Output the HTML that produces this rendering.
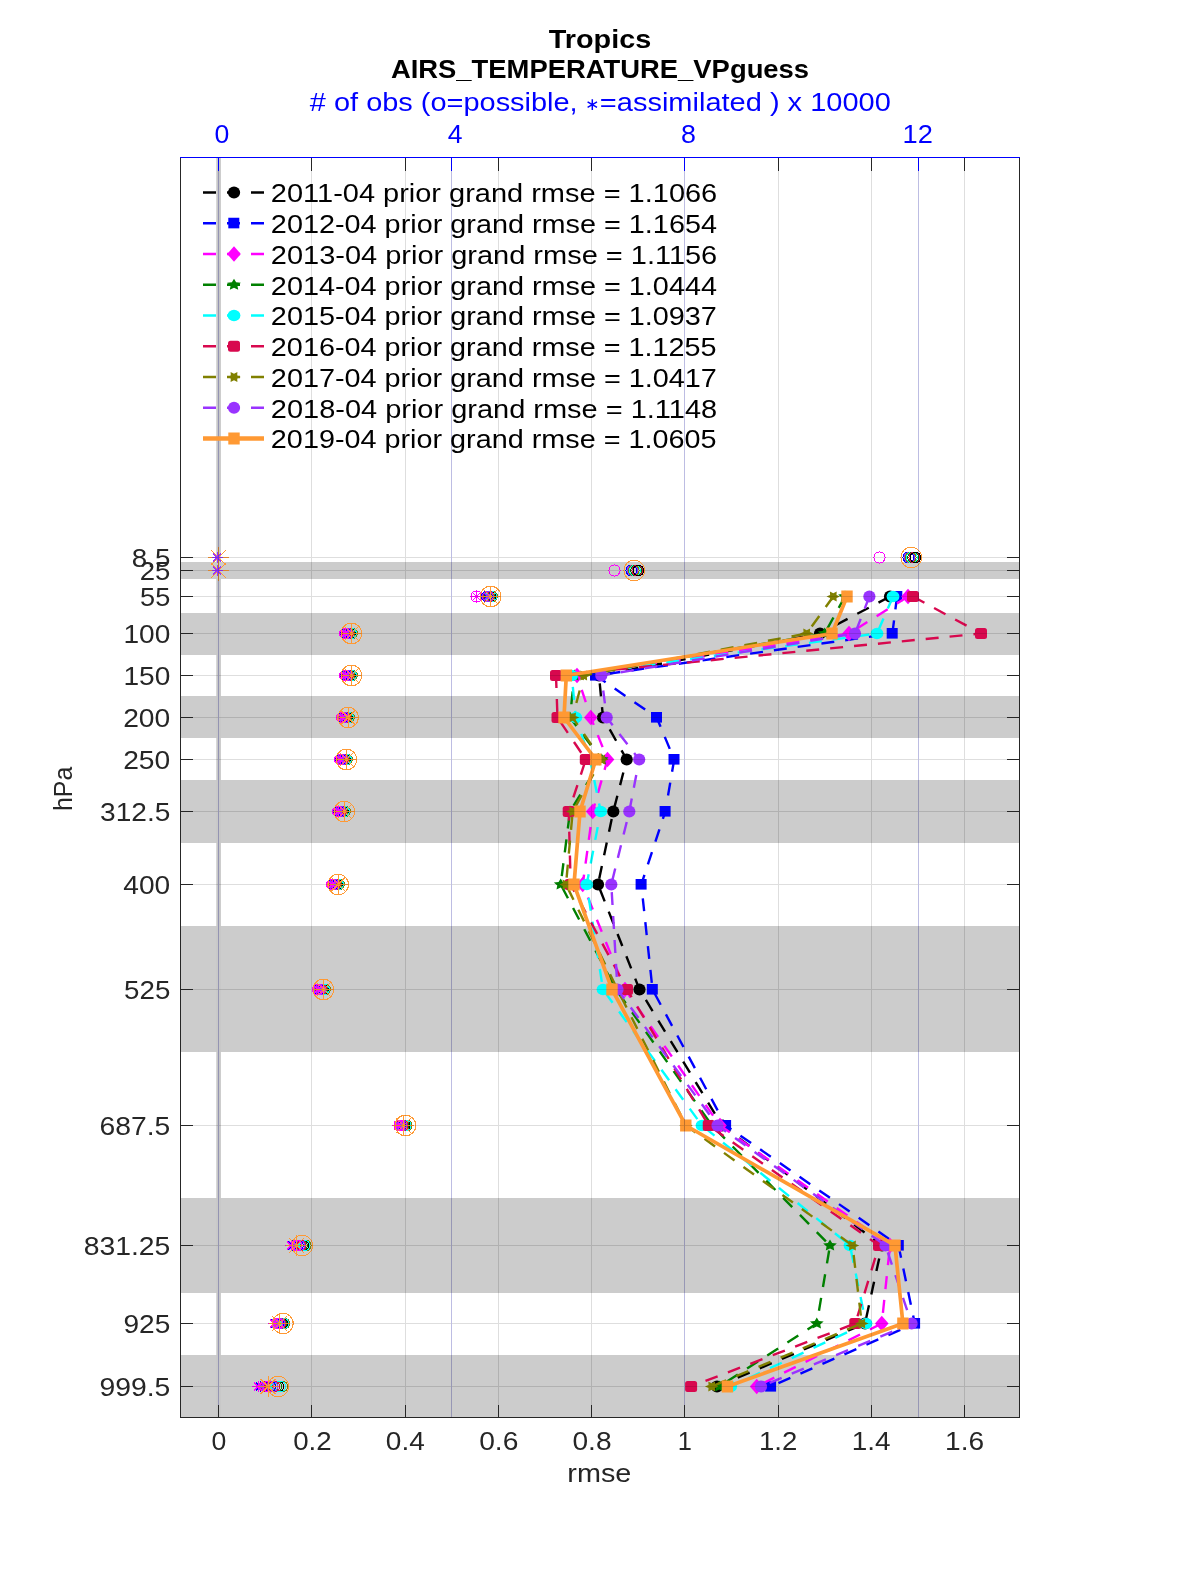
<!DOCTYPE html><html><head><meta charset="utf-8"><style>html,body{margin:0;padding:0;background:#fff;width:1200px;height:1575px;overflow:hidden}</style></head><body><svg width="1200" height="1575" viewBox="0 0 1200 1575" style="display:block">
<rect x="0" y="0" width="1200" height="1575" fill="#fff"/>
<clipPath id="cp"><rect x="180.5" y="157.5" width="839.0" height="1260.0"/></clipPath>
<g clip-path="url(#cp)">
<rect x="180.5" y="562" width="839.0" height="17" fill="#cccccc"/>
<rect x="180.5" y="613" width="839.0" height="42" fill="#cccccc"/>
<rect x="180.5" y="696" width="839.0" height="42" fill="#cccccc"/>
<rect x="180.5" y="780" width="839.0" height="63" fill="#cccccc"/>
<rect x="180.5" y="926" width="839.0" height="126" fill="#cccccc"/>
<rect x="180.5" y="1198" width="839.0" height="95" fill="#cccccc"/>
<rect x="180.5" y="1355" width="839.0" height="62.5" fill="#cccccc"/>
<line x1="218.6" y1="157.5" x2="218.6" y2="1417.5" stroke="#c8c8c8" stroke-width="4.6"/>
</g>
<g clip-path="url(#cp)">
<polyline points="890.00,596.50 820.00,633.50 599.00,675.50 603.00,717.50 626.70,759.50 613.30,811.50 598.00,884.50 639.50,989.50 722.00,1125.50 882.00,1245.50 865.00,1323.50 717.00,1386.50" fill="none" stroke="#000000" stroke-width="2.4" stroke-dasharray="13 11"/>
<circle cx="890.00" cy="596.50" r="6.1" fill="#000000"/>
<circle cx="820.00" cy="633.50" r="6.1" fill="#000000"/>
<circle cx="599.00" cy="675.50" r="6.1" fill="#000000"/>
<circle cx="603.00" cy="717.50" r="6.1" fill="#000000"/>
<circle cx="626.70" cy="759.50" r="6.1" fill="#000000"/>
<circle cx="613.30" cy="811.50" r="6.1" fill="#000000"/>
<circle cx="598.00" cy="884.50" r="6.1" fill="#000000"/>
<circle cx="639.50" cy="989.50" r="6.1" fill="#000000"/>
<circle cx="722.00" cy="1125.50" r="6.1" fill="#000000"/>
<circle cx="882.00" cy="1245.50" r="6.1" fill="#000000"/>
<circle cx="865.00" cy="1323.50" r="6.1" fill="#000000"/>
<circle cx="717.00" cy="1386.50" r="6.1" fill="#000000"/>
<polyline points="897.00,596.50 892.40,633.50 595.70,675.50 656.70,717.50 674.20,759.50 665.30,811.50 641.30,884.50 652.50,989.50 725.80,1125.50 898.50,1245.50 914.80,1323.50 770.80,1386.50" fill="none" stroke="#0000ff" stroke-width="2.4" stroke-dasharray="13 11"/>
<rect x="891.30" y="591.00" width="11" height="10.6" fill="#0000ff"/>
<rect x="886.70" y="628.00" width="11" height="10.6" fill="#0000ff"/>
<rect x="590.00" y="670.00" width="11" height="10.6" fill="#0000ff"/>
<rect x="651.00" y="712.00" width="11" height="10.6" fill="#0000ff"/>
<rect x="668.50" y="754.00" width="11" height="10.6" fill="#0000ff"/>
<rect x="659.60" y="806.00" width="11" height="10.6" fill="#0000ff"/>
<rect x="635.60" y="879.00" width="11" height="10.6" fill="#0000ff"/>
<rect x="646.80" y="984.00" width="11" height="10.6" fill="#0000ff"/>
<rect x="720.10" y="1120.00" width="11" height="10.6" fill="#0000ff"/>
<rect x="892.80" y="1240.00" width="11" height="10.6" fill="#0000ff"/>
<rect x="909.10" y="1318.00" width="11" height="10.6" fill="#0000ff"/>
<rect x="765.10" y="1381.00" width="11" height="10.6" fill="#0000ff"/>
<polyline points="908.00,596.50 849.00,633.50 577.00,675.50 590.80,717.50 607.50,759.50 592.70,811.50 582.70,884.50 625.00,989.50 720.00,1125.50 890.00,1245.50 881.80,1323.50 756.70,1386.50" fill="none" stroke="#ff00ff" stroke-width="2.4" stroke-dasharray="13 11"/>
<path d="M908.00 588.70L914.80 596.50L908.00 604.30L901.20 596.50Z" fill="#ff00ff"/>
<path d="M849.00 625.70L855.80 633.50L849.00 641.30L842.20 633.50Z" fill="#ff00ff"/>
<path d="M577.00 667.70L583.80 675.50L577.00 683.30L570.20 675.50Z" fill="#ff00ff"/>
<path d="M590.80 709.70L597.60 717.50L590.80 725.30L584.00 717.50Z" fill="#ff00ff"/>
<path d="M607.50 751.70L614.30 759.50L607.50 767.30L600.70 759.50Z" fill="#ff00ff"/>
<path d="M592.70 803.70L599.50 811.50L592.70 819.30L585.90 811.50Z" fill="#ff00ff"/>
<path d="M582.70 876.70L589.50 884.50L582.70 892.30L575.90 884.50Z" fill="#ff00ff"/>
<path d="M625.00 981.70L631.80 989.50L625.00 997.30L618.20 989.50Z" fill="#ff00ff"/>
<path d="M720.00 1117.70L726.80 1125.50L720.00 1133.30L713.20 1125.50Z" fill="#ff00ff"/>
<path d="M890.00 1237.70L896.80 1245.50L890.00 1253.30L883.20 1245.50Z" fill="#ff00ff"/>
<path d="M881.80 1315.70L888.60 1323.50L881.80 1331.30L875.00 1323.50Z" fill="#ff00ff"/>
<path d="M756.70 1378.70L763.50 1386.50L756.70 1394.30L749.90 1386.50Z" fill="#ff00ff"/>
<polyline points="845.00,596.50 824.70,633.50 574.30,675.50 570.00,717.50 601.70,759.50 570.00,811.50 560.70,884.50 616.00,989.50 712.00,1125.50 830.00,1245.50 816.80,1323.50 719.30,1386.50" fill="none" stroke="#008000" stroke-width="2.4" stroke-dasharray="13 11"/>
<polygon points="845.00,590.38 842.88,594.02 838.15,594.61 841.58,597.45 840.77,601.45 845.00,599.56 849.23,601.45 848.42,597.45 851.85,594.61 847.12,594.02" fill="#008000"/>
<polygon points="824.70,627.38 822.58,631.02 817.85,631.61 821.28,634.45 820.47,638.45 824.70,636.56 828.93,638.45 828.12,634.45 831.55,631.61 826.82,631.02" fill="#008000"/>
<polygon points="574.30,669.38 572.18,673.02 567.45,673.61 570.88,676.45 570.07,680.45 574.30,678.56 578.53,680.45 577.72,676.45 581.15,673.61 576.42,673.02" fill="#008000"/>
<polygon points="570.00,711.38 567.88,715.02 563.15,715.61 566.58,718.45 565.77,722.45 570.00,720.56 574.23,722.45 573.42,718.45 576.85,715.61 572.12,715.02" fill="#008000"/>
<polygon points="601.70,753.38 599.58,757.02 594.85,757.61 598.28,760.45 597.47,764.45 601.70,762.56 605.93,764.45 605.12,760.45 608.55,757.61 603.82,757.02" fill="#008000"/>
<polygon points="570.00,805.38 567.88,809.02 563.15,809.61 566.58,812.45 565.77,816.45 570.00,814.56 574.23,816.45 573.42,812.45 576.85,809.61 572.12,809.02" fill="#008000"/>
<polygon points="560.70,878.38 558.58,882.02 553.85,882.61 557.28,885.45 556.47,889.45 560.70,887.56 564.93,889.45 564.12,885.45 567.55,882.61 562.82,882.02" fill="#008000"/>
<polygon points="616.00,983.38 613.88,987.02 609.15,987.61 612.58,990.45 611.77,994.45 616.00,992.56 620.23,994.45 619.42,990.45 622.85,987.61 618.12,987.02" fill="#008000"/>
<polygon points="712.00,1119.38 709.88,1123.02 705.15,1123.61 708.58,1126.45 707.77,1130.45 712.00,1128.56 716.23,1130.45 715.42,1126.45 718.85,1123.61 714.12,1123.02" fill="#008000"/>
<polygon points="830.00,1239.38 827.88,1243.02 823.15,1243.61 826.58,1246.45 825.77,1250.45 830.00,1248.56 834.23,1250.45 833.42,1246.45 836.85,1243.61 832.12,1243.02" fill="#008000"/>
<polygon points="816.80,1317.38 814.68,1321.02 809.95,1321.61 813.38,1324.45 812.57,1328.45 816.80,1326.56 821.03,1328.45 820.22,1324.45 823.65,1321.61 818.92,1321.02" fill="#008000"/>
<polygon points="719.30,1380.38 717.18,1384.02 712.45,1384.61 715.88,1387.45 715.07,1391.45 719.30,1389.56 723.53,1391.45 722.72,1387.45 726.15,1384.61 721.42,1384.02" fill="#008000"/>
<polyline points="893.00,596.50 877.00,633.50 571.70,675.50 575.80,717.50 590.00,759.50 600.70,811.50 586.70,884.50 603.00,989.50 702.00,1125.50 850.00,1245.50 866.00,1323.50 730.70,1386.50" fill="none" stroke="#00ffff" stroke-width="2.4" stroke-dasharray="13 11"/>
<ellipse cx="893.00" cy="596.50" rx="6.4" ry="5.8" fill="#00ffff"/>
<ellipse cx="877.00" cy="633.50" rx="6.4" ry="5.8" fill="#00ffff"/>
<ellipse cx="571.70" cy="675.50" rx="6.4" ry="5.8" fill="#00ffff"/>
<ellipse cx="575.80" cy="717.50" rx="6.4" ry="5.8" fill="#00ffff"/>
<ellipse cx="590.00" cy="759.50" rx="6.4" ry="5.8" fill="#00ffff"/>
<ellipse cx="600.70" cy="811.50" rx="6.4" ry="5.8" fill="#00ffff"/>
<ellipse cx="586.70" cy="884.50" rx="6.4" ry="5.8" fill="#00ffff"/>
<ellipse cx="603.00" cy="989.50" rx="6.4" ry="5.8" fill="#00ffff"/>
<ellipse cx="702.00" cy="1125.50" rx="6.4" ry="5.8" fill="#00ffff"/>
<ellipse cx="850.00" cy="1245.50" rx="6.4" ry="5.8" fill="#00ffff"/>
<ellipse cx="866.00" cy="1323.50" rx="6.4" ry="5.8" fill="#00ffff"/>
<ellipse cx="730.70" cy="1386.50" rx="6.4" ry="5.8" fill="#00ffff"/>
<polyline points="913.00,596.50 981.00,633.50 556.00,675.50 557.50,717.50 585.80,759.50 568.70,811.50 570.70,884.50 627.00,989.50 708.75,1125.50 879.00,1245.50 855.30,1323.50 691.10,1386.50" fill="none" stroke="#d8084e" stroke-width="2.4" stroke-dasharray="13 11"/>
<rect x="907.00" y="590.90" width="12" height="11.2" rx="2.5" fill="#d8084e"/>
<rect x="975.00" y="627.90" width="12" height="11.2" rx="2.5" fill="#d8084e"/>
<rect x="550.00" y="669.90" width="12" height="11.2" rx="2.5" fill="#d8084e"/>
<rect x="551.50" y="711.90" width="12" height="11.2" rx="2.5" fill="#d8084e"/>
<rect x="579.80" y="753.90" width="12" height="11.2" rx="2.5" fill="#d8084e"/>
<rect x="562.70" y="805.90" width="12" height="11.2" rx="2.5" fill="#d8084e"/>
<rect x="564.70" y="878.90" width="12" height="11.2" rx="2.5" fill="#d8084e"/>
<rect x="621.00" y="983.90" width="12" height="11.2" rx="2.5" fill="#d8084e"/>
<rect x="702.75" y="1119.90" width="12" height="11.2" rx="2.5" fill="#d8084e"/>
<rect x="873.00" y="1239.90" width="12" height="11.2" rx="2.5" fill="#d8084e"/>
<rect x="849.30" y="1317.90" width="12" height="11.2" rx="2.5" fill="#d8084e"/>
<rect x="685.10" y="1380.90" width="12" height="11.2" rx="2.5" fill="#d8084e"/>
<polyline points="833.30,596.50 806.70,633.50 583.70,675.50 572.50,717.50 601.70,759.50 572.70,811.50 566.00,884.50 617.50,989.50 686.00,1125.50 852.50,1245.50 861.80,1323.50 711.70,1386.50" fill="none" stroke="#808000" stroke-width="2.4" stroke-dasharray="13 11"/>
<polygon points="840.10,596.50 836.50,594.93 836.70,591.49 833.30,593.36 829.90,591.49 830.10,594.93 826.50,596.50 830.10,598.07 829.90,601.51 833.30,599.64 836.70,601.51 836.50,598.07" fill="#808000"/>
<polygon points="813.50,633.50 809.90,631.93 810.10,628.49 806.70,630.36 803.30,628.49 803.50,631.93 799.90,633.50 803.50,635.07 803.30,638.51 806.70,636.64 810.10,638.51 809.90,635.07" fill="#808000"/>
<polygon points="590.50,675.50 586.90,673.93 587.10,670.49 583.70,672.36 580.30,670.49 580.50,673.93 576.90,675.50 580.50,677.07 580.30,680.51 583.70,678.64 587.10,680.51 586.90,677.07" fill="#808000"/>
<polygon points="579.30,717.50 575.70,715.93 575.90,712.49 572.50,714.36 569.10,712.49 569.30,715.93 565.70,717.50 569.30,719.07 569.10,722.51 572.50,720.64 575.90,722.51 575.70,719.07" fill="#808000"/>
<polygon points="608.50,759.50 604.90,757.93 605.10,754.49 601.70,756.36 598.30,754.49 598.50,757.93 594.90,759.50 598.50,761.07 598.30,764.51 601.70,762.64 605.10,764.51 604.90,761.07" fill="#808000"/>
<polygon points="579.50,811.50 575.90,809.93 576.10,806.49 572.70,808.36 569.30,806.49 569.50,809.93 565.90,811.50 569.50,813.07 569.30,816.51 572.70,814.64 576.10,816.51 575.90,813.07" fill="#808000"/>
<polygon points="572.80,884.50 569.20,882.93 569.40,879.49 566.00,881.36 562.60,879.49 562.80,882.93 559.20,884.50 562.80,886.07 562.60,889.51 566.00,887.64 569.40,889.51 569.20,886.07" fill="#808000"/>
<polygon points="624.30,989.50 620.70,987.93 620.90,984.49 617.50,986.36 614.10,984.49 614.30,987.93 610.70,989.50 614.30,991.07 614.10,994.51 617.50,992.64 620.90,994.51 620.70,991.07" fill="#808000"/>
<polygon points="692.80,1125.50 689.20,1123.93 689.40,1120.49 686.00,1122.36 682.60,1120.49 682.80,1123.93 679.20,1125.50 682.80,1127.07 682.60,1130.51 686.00,1128.64 689.40,1130.51 689.20,1127.07" fill="#808000"/>
<polygon points="859.30,1245.50 855.70,1243.93 855.90,1240.49 852.50,1242.36 849.10,1240.49 849.30,1243.93 845.70,1245.50 849.30,1247.07 849.10,1250.51 852.50,1248.64 855.90,1250.51 855.70,1247.07" fill="#808000"/>
<polygon points="868.60,1323.50 865.00,1321.93 865.20,1318.49 861.80,1320.36 858.40,1318.49 858.60,1321.93 855.00,1323.50 858.60,1325.07 858.40,1328.51 861.80,1326.64 865.20,1328.51 865.00,1325.07" fill="#808000"/>
<polygon points="718.50,1386.50 714.90,1384.93 715.10,1381.49 711.70,1383.36 708.30,1381.49 708.50,1384.93 704.90,1386.50 708.50,1388.07 708.30,1391.51 711.70,1389.64 715.10,1391.51 714.90,1388.07" fill="#808000"/>
<polyline points="869.40,596.50 855.00,633.50 601.30,675.50 606.70,717.50 639.20,759.50 629.30,811.50 611.30,884.50 617.50,989.50 717.50,1125.50 885.50,1245.50 911.60,1323.50 761.00,1386.50" fill="none" stroke="#9933ff" stroke-width="2.4" stroke-dasharray="13 11"/>
<circle cx="869.40" cy="596.50" r="6.1" fill="#9933ff"/>
<circle cx="855.00" cy="633.50" r="6.1" fill="#9933ff"/>
<circle cx="601.30" cy="675.50" r="6.1" fill="#9933ff"/>
<circle cx="606.70" cy="717.50" r="6.1" fill="#9933ff"/>
<circle cx="639.20" cy="759.50" r="6.1" fill="#9933ff"/>
<circle cx="629.30" cy="811.50" r="6.1" fill="#9933ff"/>
<circle cx="611.30" cy="884.50" r="6.1" fill="#9933ff"/>
<circle cx="617.50" cy="989.50" r="6.1" fill="#9933ff"/>
<circle cx="717.50" cy="1125.50" r="6.1" fill="#9933ff"/>
<circle cx="885.50" cy="1245.50" r="6.1" fill="#9933ff"/>
<circle cx="911.60" cy="1323.50" r="6.1" fill="#9933ff"/>
<circle cx="761.00" cy="1386.50" r="6.1" fill="#9933ff"/>
<polyline points="847.00,596.50 832.00,633.50 566.30,675.50 564.00,717.50 595.80,759.50 580.00,811.50 574.00,884.50 612.00,989.50 685.80,1125.50 895.00,1245.50 902.90,1323.50 727.40,1386.50" fill="none" stroke="#ff9933" stroke-width="3.7" stroke-linejoin="miter"/>
<rect x="841.30" y="590.50" width="11.4" height="12" fill="#ff9933"/>
<rect x="826.30" y="627.50" width="11.4" height="12" fill="#ff9933"/>
<rect x="560.60" y="669.50" width="11.4" height="12" fill="#ff9933"/>
<rect x="558.30" y="711.50" width="11.4" height="12" fill="#ff9933"/>
<rect x="590.10" y="753.50" width="11.4" height="12" fill="#ff9933"/>
<rect x="574.30" y="805.50" width="11.4" height="12" fill="#ff9933"/>
<rect x="568.30" y="878.50" width="11.4" height="12" fill="#ff9933"/>
<rect x="606.30" y="983.50" width="11.4" height="12" fill="#ff9933"/>
<rect x="680.10" y="1119.50" width="11.4" height="12" fill="#ff9933"/>
<rect x="889.30" y="1239.50" width="11.4" height="12" fill="#ff9933"/>
<rect x="897.20" y="1317.50" width="11.4" height="12" fill="#ff9933"/>
<rect x="721.70" y="1380.50" width="11.4" height="12" fill="#ff9933"/>
<g shape-rendering="crispEdges">
<circle cx="879.5" cy="557.50" r="5.6" fill="none" stroke="#ff00ff" stroke-width="1.0"/>
<circle cx="908.30" cy="557.50" r="5.4" fill="none" stroke="#0000ff" stroke-width="1.0"/>
<circle cx="909.50" cy="557.50" r="5.4" fill="none" stroke="#9933ff" stroke-width="1.0"/>
<circle cx="910.70" cy="557.50" r="5.4" fill="none" stroke="#808000" stroke-width="1.0"/>
<circle cx="911.90" cy="557.50" r="5.4" fill="none" stroke="#00ffff" stroke-width="1.0"/>
<circle cx="913.10" cy="557.50" r="5.4" fill="none" stroke="#008000" stroke-width="1.0"/>
<circle cx="914.30" cy="557.50" r="5.4" fill="none" stroke="#d8084e" stroke-width="1.0"/>
<circle cx="915.50" cy="557.50" r="5.4" fill="none" stroke="#000000" stroke-width="1.0"/>
<circle cx="911.3" cy="557.50" r="10.3" fill="none" stroke="#ff9933" stroke-width="1.0"/>
<path d="M207.90 557.50H228.90M218.40 547.00V568.00M210.98 550.08L225.82 564.92M210.98 564.92L225.82 550.08" stroke="#ff9933" stroke-width="1.0" fill="none"/>
<path d="M211.60 557.50H222.60M217.10 552.00V563.00M213.21 553.61L220.99 561.39M213.21 561.39L220.99 553.61" stroke="#9933ff" stroke-width="1.0" fill="none"/>
<circle cx="614.5" cy="570.50" r="5.6" fill="none" stroke="#ff00ff" stroke-width="1.0"/>
<circle cx="631.30" cy="570.50" r="5.4" fill="none" stroke="#0000ff" stroke-width="1.0"/>
<circle cx="632.50" cy="570.50" r="5.4" fill="none" stroke="#9933ff" stroke-width="1.0"/>
<circle cx="633.70" cy="570.50" r="5.4" fill="none" stroke="#808000" stroke-width="1.0"/>
<circle cx="634.90" cy="570.50" r="5.4" fill="none" stroke="#00ffff" stroke-width="1.0"/>
<circle cx="636.10" cy="570.50" r="5.4" fill="none" stroke="#008000" stroke-width="1.0"/>
<circle cx="637.30" cy="570.50" r="5.4" fill="none" stroke="#d8084e" stroke-width="1.0"/>
<circle cx="638.50" cy="570.50" r="5.4" fill="none" stroke="#000000" stroke-width="1.0"/>
<circle cx="634.3" cy="570.50" r="10.3" fill="none" stroke="#ff9933" stroke-width="1.0"/>
<path d="M207.90 570.50H228.90M218.40 560.00V581.00M210.98 563.08L225.82 577.92M210.98 577.92L225.82 563.08" stroke="#ff9933" stroke-width="1.0" fill="none"/>
<path d="M211.60 570.50H222.60M217.10 565.00V576.00M213.21 566.61L220.99 574.39M213.21 574.39L220.99 566.61" stroke="#9933ff" stroke-width="1.0" fill="none"/>
<circle cx="476.5" cy="596.50" r="5.6" fill="none" stroke="#ff00ff" stroke-width="1.0"/>
<path d="M470.50 596.50H482.50M476.50 590.50V602.50M472.26 592.26L480.74 600.74M472.26 600.74L480.74 592.26" stroke="#ff00ff" stroke-width="1.0" fill="none"/>
<circle cx="489.50" cy="596.50" r="5.4" fill="none" stroke="#008000" stroke-width="1.0"/>
<path d="M483.70 596.50H495.30M489.50 590.70V602.30M485.40 592.40L493.60 600.60M485.40 600.60L493.60 592.40" stroke="#008000" stroke-width="1.0" fill="none"/>
<circle cx="490.33" cy="596.50" r="5.4" fill="none" stroke="#000000" stroke-width="1.0"/>
<path d="M484.53 596.50H496.13M490.33 590.70V602.30M486.23 592.40L494.43 600.60M486.23 600.60L494.43 592.40" stroke="#000000" stroke-width="1.0" fill="none"/>
<circle cx="492.00" cy="596.50" r="5.4" fill="none" stroke="#808000" stroke-width="1.0"/>
<path d="M486.20 596.50H497.80M492.00 590.70V602.30M487.90 592.40L496.10 600.60M487.90 600.60L496.10 592.40" stroke="#808000" stroke-width="1.0" fill="none"/>
<circle cx="491.17" cy="596.50" r="5.4" fill="none" stroke="#00ffff" stroke-width="1.0"/>
<path d="M485.37 596.50H496.97M491.17 590.70V602.30M487.07 592.40L495.27 600.60M487.07 600.60L495.27 592.40" stroke="#00ffff" stroke-width="1.0" fill="none"/>
<circle cx="487.00" cy="596.50" r="5.4" fill="none" stroke="#0000ff" stroke-width="1.0"/>
<path d="M481.20 596.50H492.80M487.00 590.70V602.30M482.90 592.40L491.10 600.60M482.90 600.60L491.10 592.40" stroke="#0000ff" stroke-width="1.0" fill="none"/>
<circle cx="488.67" cy="596.50" r="5.4" fill="none" stroke="#d8084e" stroke-width="1.0"/>
<path d="M482.87 596.50H494.47M488.67 590.70V602.30M484.57 592.40L492.77 600.60M484.57 600.60L492.77 592.40" stroke="#d8084e" stroke-width="1.0" fill="none"/>
<circle cx="487.83" cy="596.50" r="5.4" fill="none" stroke="#9933ff" stroke-width="1.0"/>
<path d="M482.03 596.50H493.63M487.83 590.70V602.30M483.73 592.40L491.93 600.60M483.73 600.60L491.93 592.40" stroke="#9933ff" stroke-width="1.0" fill="none"/>
<circle cx="490.6" cy="596.50" r="10.3" fill="none" stroke="#ff9933" stroke-width="1.0"/>
<path d="M480.10 596.50H501.10M490.60 586.00V607.00M483.18 589.08L498.02 603.92M483.18 603.92L498.02 589.08" stroke="#ff9933" stroke-width="1.0" fill="none"/>
<circle cx="349.00" cy="633.50" r="5.4" fill="none" stroke="#008000" stroke-width="1.0"/>
<path d="M343.20 633.50H354.80M349.00 627.70V639.30M344.90 629.40L353.10 637.60M344.90 637.60L353.10 629.40" stroke="#008000" stroke-width="1.0" fill="none"/>
<circle cx="350.00" cy="633.50" r="5.4" fill="none" stroke="#000000" stroke-width="1.0"/>
<path d="M344.20 633.50H355.80M350.00 627.70V639.30M345.90 629.40L354.10 637.60M345.90 637.60L354.10 629.40" stroke="#000000" stroke-width="1.0" fill="none"/>
<circle cx="352.00" cy="633.50" r="5.4" fill="none" stroke="#808000" stroke-width="1.0"/>
<path d="M346.20 633.50H357.80M352.00 627.70V639.30M347.90 629.40L356.10 637.60M347.90 637.60L356.10 629.40" stroke="#808000" stroke-width="1.0" fill="none"/>
<circle cx="351.00" cy="633.50" r="5.4" fill="none" stroke="#00ffff" stroke-width="1.0"/>
<path d="M345.20 633.50H356.80M351.00 627.70V639.30M346.90 629.40L355.10 637.60M346.90 637.60L355.10 629.40" stroke="#00ffff" stroke-width="1.0" fill="none"/>
<circle cx="346.00" cy="633.50" r="5.4" fill="none" stroke="#0000ff" stroke-width="1.0"/>
<path d="M340.20 633.50H351.80M346.00 627.70V639.30M341.90 629.40L350.10 637.60M341.90 637.60L350.10 629.40" stroke="#0000ff" stroke-width="1.0" fill="none"/>
<circle cx="348.00" cy="633.50" r="5.4" fill="none" stroke="#d8084e" stroke-width="1.0"/>
<path d="M342.20 633.50H353.80M348.00 627.70V639.30M343.90 629.40L352.10 637.60M343.90 637.60L352.10 629.40" stroke="#d8084e" stroke-width="1.0" fill="none"/>
<circle cx="347.00" cy="633.50" r="5.4" fill="none" stroke="#9933ff" stroke-width="1.0"/>
<path d="M341.20 633.50H352.80M347.00 627.70V639.30M342.90 629.40L351.10 637.60M342.90 637.60L351.10 629.40" stroke="#9933ff" stroke-width="1.0" fill="none"/>
<circle cx="345.00" cy="633.50" r="5.4" fill="none" stroke="#ff00ff" stroke-width="1.0"/>
<path d="M339.20 633.50H350.80M345.00 627.70V639.30M340.90 629.40L349.10 637.60M340.90 637.60L349.10 629.40" stroke="#ff00ff" stroke-width="1.0" fill="none"/>
<circle cx="351.4" cy="633.50" r="10.3" fill="none" stroke="#ff9933" stroke-width="1.0"/>
<path d="M340.90 633.50H361.90M351.40 623.00V644.00M343.98 626.08L358.82 640.92M343.98 640.92L358.82 626.08" stroke="#ff9933" stroke-width="1.0" fill="none"/>
<circle cx="349.00" cy="675.50" r="5.4" fill="none" stroke="#008000" stroke-width="1.0"/>
<path d="M343.20 675.50H354.80M349.00 669.70V681.30M344.90 671.40L353.10 679.60M344.90 679.60L353.10 671.40" stroke="#008000" stroke-width="1.0" fill="none"/>
<circle cx="350.00" cy="675.50" r="5.4" fill="none" stroke="#000000" stroke-width="1.0"/>
<path d="M344.20 675.50H355.80M350.00 669.70V681.30M345.90 671.40L354.10 679.60M345.90 679.60L354.10 671.40" stroke="#000000" stroke-width="1.0" fill="none"/>
<circle cx="352.00" cy="675.50" r="5.4" fill="none" stroke="#808000" stroke-width="1.0"/>
<path d="M346.20 675.50H357.80M352.00 669.70V681.30M347.90 671.40L356.10 679.60M347.90 679.60L356.10 671.40" stroke="#808000" stroke-width="1.0" fill="none"/>
<circle cx="351.00" cy="675.50" r="5.4" fill="none" stroke="#00ffff" stroke-width="1.0"/>
<path d="M345.20 675.50H356.80M351.00 669.70V681.30M346.90 671.40L355.10 679.60M346.90 679.60L355.10 671.40" stroke="#00ffff" stroke-width="1.0" fill="none"/>
<circle cx="346.00" cy="675.50" r="5.4" fill="none" stroke="#0000ff" stroke-width="1.0"/>
<path d="M340.20 675.50H351.80M346.00 669.70V681.30M341.90 671.40L350.10 679.60M341.90 679.60L350.10 671.40" stroke="#0000ff" stroke-width="1.0" fill="none"/>
<circle cx="348.00" cy="675.50" r="5.4" fill="none" stroke="#d8084e" stroke-width="1.0"/>
<path d="M342.20 675.50H353.80M348.00 669.70V681.30M343.90 671.40L352.10 679.60M343.90 679.60L352.10 671.40" stroke="#d8084e" stroke-width="1.0" fill="none"/>
<circle cx="347.00" cy="675.50" r="5.4" fill="none" stroke="#9933ff" stroke-width="1.0"/>
<path d="M341.20 675.50H352.80M347.00 669.70V681.30M342.90 671.40L351.10 679.60M342.90 679.60L351.10 671.40" stroke="#9933ff" stroke-width="1.0" fill="none"/>
<circle cx="345.00" cy="675.50" r="5.4" fill="none" stroke="#ff00ff" stroke-width="1.0"/>
<path d="M339.20 675.50H350.80M345.00 669.70V681.30M340.90 671.40L349.10 679.60M340.90 679.60L349.10 671.40" stroke="#ff00ff" stroke-width="1.0" fill="none"/>
<circle cx="351.4" cy="675.50" r="10.3" fill="none" stroke="#ff9933" stroke-width="1.0"/>
<path d="M340.90 675.50H361.90M351.40 665.00V686.00M343.98 668.08L358.82 682.92M343.98 682.92L358.82 668.08" stroke="#ff9933" stroke-width="1.0" fill="none"/>
<circle cx="346.00" cy="717.50" r="5.4" fill="none" stroke="#008000" stroke-width="1.0"/>
<path d="M340.20 717.50H351.80M346.00 711.70V723.30M341.90 713.40L350.10 721.60M341.90 721.60L350.10 713.40" stroke="#008000" stroke-width="1.0" fill="none"/>
<circle cx="347.00" cy="717.50" r="5.4" fill="none" stroke="#000000" stroke-width="1.0"/>
<path d="M341.20 717.50H352.80M347.00 711.70V723.30M342.90 713.40L351.10 721.60M342.90 721.60L351.10 713.40" stroke="#000000" stroke-width="1.0" fill="none"/>
<circle cx="349.00" cy="717.50" r="5.4" fill="none" stroke="#808000" stroke-width="1.0"/>
<path d="M343.20 717.50H354.80M349.00 711.70V723.30M344.90 713.40L353.10 721.60M344.90 721.60L353.10 713.40" stroke="#808000" stroke-width="1.0" fill="none"/>
<circle cx="348.00" cy="717.50" r="5.4" fill="none" stroke="#00ffff" stroke-width="1.0"/>
<path d="M342.20 717.50H353.80M348.00 711.70V723.30M343.90 713.40L352.10 721.60M343.90 721.60L352.10 713.40" stroke="#00ffff" stroke-width="1.0" fill="none"/>
<circle cx="343.00" cy="717.50" r="5.4" fill="none" stroke="#0000ff" stroke-width="1.0"/>
<path d="M337.20 717.50H348.80M343.00 711.70V723.30M338.90 713.40L347.10 721.60M338.90 721.60L347.10 713.40" stroke="#0000ff" stroke-width="1.0" fill="none"/>
<circle cx="345.00" cy="717.50" r="5.4" fill="none" stroke="#d8084e" stroke-width="1.0"/>
<path d="M339.20 717.50H350.80M345.00 711.70V723.30M340.90 713.40L349.10 721.60M340.90 721.60L349.10 713.40" stroke="#d8084e" stroke-width="1.0" fill="none"/>
<circle cx="344.00" cy="717.50" r="5.4" fill="none" stroke="#9933ff" stroke-width="1.0"/>
<path d="M338.20 717.50H349.80M344.00 711.70V723.30M339.90 713.40L348.10 721.60M339.90 721.60L348.10 713.40" stroke="#9933ff" stroke-width="1.0" fill="none"/>
<circle cx="342.00" cy="717.50" r="5.4" fill="none" stroke="#ff00ff" stroke-width="1.0"/>
<path d="M336.20 717.50H347.80M342.00 711.70V723.30M337.90 713.40L346.10 721.60M337.90 721.60L346.10 713.40" stroke="#ff00ff" stroke-width="1.0" fill="none"/>
<circle cx="348.1" cy="717.50" r="10.3" fill="none" stroke="#ff9933" stroke-width="1.0"/>
<path d="M337.60 717.50H358.60M348.10 707.00V728.00M340.68 710.08L355.52 724.92M340.68 724.92L355.52 710.08" stroke="#ff9933" stroke-width="1.0" fill="none"/>
<circle cx="344.00" cy="759.50" r="5.4" fill="none" stroke="#008000" stroke-width="1.0"/>
<path d="M338.20 759.50H349.80M344.00 753.70V765.30M339.90 755.40L348.10 763.60M339.90 763.60L348.10 755.40" stroke="#008000" stroke-width="1.0" fill="none"/>
<circle cx="345.00" cy="759.50" r="5.4" fill="none" stroke="#000000" stroke-width="1.0"/>
<path d="M339.20 759.50H350.80M345.00 753.70V765.30M340.90 755.40L349.10 763.60M340.90 763.60L349.10 755.40" stroke="#000000" stroke-width="1.0" fill="none"/>
<circle cx="347.00" cy="759.50" r="5.4" fill="none" stroke="#808000" stroke-width="1.0"/>
<path d="M341.20 759.50H352.80M347.00 753.70V765.30M342.90 755.40L351.10 763.60M342.90 763.60L351.10 755.40" stroke="#808000" stroke-width="1.0" fill="none"/>
<circle cx="346.00" cy="759.50" r="5.4" fill="none" stroke="#00ffff" stroke-width="1.0"/>
<path d="M340.20 759.50H351.80M346.00 753.70V765.30M341.90 755.40L350.10 763.60M341.90 763.60L350.10 755.40" stroke="#00ffff" stroke-width="1.0" fill="none"/>
<circle cx="341.00" cy="759.50" r="5.4" fill="none" stroke="#0000ff" stroke-width="1.0"/>
<path d="M335.20 759.50H346.80M341.00 753.70V765.30M336.90 755.40L345.10 763.60M336.90 763.60L345.10 755.40" stroke="#0000ff" stroke-width="1.0" fill="none"/>
<circle cx="343.00" cy="759.50" r="5.4" fill="none" stroke="#d8084e" stroke-width="1.0"/>
<path d="M337.20 759.50H348.80M343.00 753.70V765.30M338.90 755.40L347.10 763.60M338.90 763.60L347.10 755.40" stroke="#d8084e" stroke-width="1.0" fill="none"/>
<circle cx="342.00" cy="759.50" r="5.4" fill="none" stroke="#9933ff" stroke-width="1.0"/>
<path d="M336.20 759.50H347.80M342.00 753.70V765.30M337.90 755.40L346.10 763.60M337.90 763.60L346.10 755.40" stroke="#9933ff" stroke-width="1.0" fill="none"/>
<circle cx="340.00" cy="759.50" r="5.4" fill="none" stroke="#ff00ff" stroke-width="1.0"/>
<path d="M334.20 759.50H345.80M340.00 753.70V765.30M335.90 755.40L344.10 763.60M335.90 763.60L344.10 755.40" stroke="#ff00ff" stroke-width="1.0" fill="none"/>
<circle cx="346.4" cy="759.50" r="10.3" fill="none" stroke="#ff9933" stroke-width="1.0"/>
<path d="M335.90 759.50H356.90M346.40 749.00V770.00M338.98 752.08L353.82 766.92M338.98 766.92L353.82 752.08" stroke="#ff9933" stroke-width="1.0" fill="none"/>
<circle cx="342.00" cy="811.50" r="5.4" fill="none" stroke="#008000" stroke-width="1.0"/>
<path d="M336.20 811.50H347.80M342.00 805.70V817.30M337.90 807.40L346.10 815.60M337.90 815.60L346.10 807.40" stroke="#008000" stroke-width="1.0" fill="none"/>
<circle cx="343.00" cy="811.50" r="5.4" fill="none" stroke="#000000" stroke-width="1.0"/>
<path d="M337.20 811.50H348.80M343.00 805.70V817.30M338.90 807.40L347.10 815.60M338.90 815.60L347.10 807.40" stroke="#000000" stroke-width="1.0" fill="none"/>
<circle cx="345.00" cy="811.50" r="5.4" fill="none" stroke="#808000" stroke-width="1.0"/>
<path d="M339.20 811.50H350.80M345.00 805.70V817.30M340.90 807.40L349.10 815.60M340.90 815.60L349.10 807.40" stroke="#808000" stroke-width="1.0" fill="none"/>
<circle cx="344.00" cy="811.50" r="5.4" fill="none" stroke="#00ffff" stroke-width="1.0"/>
<path d="M338.20 811.50H349.80M344.00 805.70V817.30M339.90 807.40L348.10 815.60M339.90 815.60L348.10 807.40" stroke="#00ffff" stroke-width="1.0" fill="none"/>
<circle cx="339.00" cy="811.50" r="5.4" fill="none" stroke="#0000ff" stroke-width="1.0"/>
<path d="M333.20 811.50H344.80M339.00 805.70V817.30M334.90 807.40L343.10 815.60M334.90 815.60L343.10 807.40" stroke="#0000ff" stroke-width="1.0" fill="none"/>
<circle cx="341.00" cy="811.50" r="5.4" fill="none" stroke="#d8084e" stroke-width="1.0"/>
<path d="M335.20 811.50H346.80M341.00 805.70V817.30M336.90 807.40L345.10 815.60M336.90 815.60L345.10 807.40" stroke="#d8084e" stroke-width="1.0" fill="none"/>
<circle cx="340.00" cy="811.50" r="5.4" fill="none" stroke="#9933ff" stroke-width="1.0"/>
<path d="M334.20 811.50H345.80M340.00 805.70V817.30M335.90 807.40L344.10 815.60M335.90 815.60L344.10 807.40" stroke="#9933ff" stroke-width="1.0" fill="none"/>
<circle cx="338.00" cy="811.50" r="5.4" fill="none" stroke="#ff00ff" stroke-width="1.0"/>
<path d="M332.20 811.50H343.80M338.00 805.70V817.30M333.90 807.40L342.10 815.60M333.90 815.60L342.10 807.40" stroke="#ff00ff" stroke-width="1.0" fill="none"/>
<circle cx="344.3" cy="811.50" r="10.3" fill="none" stroke="#ff9933" stroke-width="1.0"/>
<path d="M333.80 811.50H354.80M344.30 801.00V822.00M336.88 804.08L351.72 818.92M336.88 818.92L351.72 804.08" stroke="#ff9933" stroke-width="1.0" fill="none"/>
<circle cx="336.00" cy="884.50" r="5.4" fill="none" stroke="#008000" stroke-width="1.0"/>
<path d="M330.20 884.50H341.80M336.00 878.70V890.30M331.90 880.40L340.10 888.60M331.90 888.60L340.10 880.40" stroke="#008000" stroke-width="1.0" fill="none"/>
<circle cx="337.00" cy="884.50" r="5.4" fill="none" stroke="#000000" stroke-width="1.0"/>
<path d="M331.20 884.50H342.80M337.00 878.70V890.30M332.90 880.40L341.10 888.60M332.90 888.60L341.10 880.40" stroke="#000000" stroke-width="1.0" fill="none"/>
<circle cx="339.00" cy="884.50" r="5.4" fill="none" stroke="#808000" stroke-width="1.0"/>
<path d="M333.20 884.50H344.80M339.00 878.70V890.30M334.90 880.40L343.10 888.60M334.90 888.60L343.10 880.40" stroke="#808000" stroke-width="1.0" fill="none"/>
<circle cx="338.00" cy="884.50" r="5.4" fill="none" stroke="#00ffff" stroke-width="1.0"/>
<path d="M332.20 884.50H343.80M338.00 878.70V890.30M333.90 880.40L342.10 888.60M333.90 888.60L342.10 880.40" stroke="#00ffff" stroke-width="1.0" fill="none"/>
<circle cx="333.00" cy="884.50" r="5.4" fill="none" stroke="#0000ff" stroke-width="1.0"/>
<path d="M327.20 884.50H338.80M333.00 878.70V890.30M328.90 880.40L337.10 888.60M328.90 888.60L337.10 880.40" stroke="#0000ff" stroke-width="1.0" fill="none"/>
<circle cx="335.00" cy="884.50" r="5.4" fill="none" stroke="#d8084e" stroke-width="1.0"/>
<path d="M329.20 884.50H340.80M335.00 878.70V890.30M330.90 880.40L339.10 888.60M330.90 888.60L339.10 880.40" stroke="#d8084e" stroke-width="1.0" fill="none"/>
<circle cx="334.00" cy="884.50" r="5.4" fill="none" stroke="#9933ff" stroke-width="1.0"/>
<path d="M328.20 884.50H339.80M334.00 878.70V890.30M329.90 880.40L338.10 888.60M329.90 888.60L338.10 880.40" stroke="#9933ff" stroke-width="1.0" fill="none"/>
<circle cx="332.00" cy="884.50" r="5.4" fill="none" stroke="#ff00ff" stroke-width="1.0"/>
<path d="M326.20 884.50H337.80M332.00 878.70V890.30M327.90 880.40L336.10 888.60M327.90 888.60L336.10 880.40" stroke="#ff00ff" stroke-width="1.0" fill="none"/>
<circle cx="338.2" cy="884.50" r="10.3" fill="none" stroke="#ff9933" stroke-width="1.0"/>
<path d="M327.70 884.50H348.70M338.20 874.00V895.00M330.78 877.08L345.62 891.92M330.78 891.92L345.62 877.08" stroke="#ff9933" stroke-width="1.0" fill="none"/>
<circle cx="322.00" cy="989.50" r="5.4" fill="none" stroke="#008000" stroke-width="1.0"/>
<path d="M316.20 989.50H327.80M322.00 983.70V995.30M317.90 985.40L326.10 993.60M317.90 993.60L326.10 985.40" stroke="#008000" stroke-width="1.0" fill="none"/>
<circle cx="323.00" cy="989.50" r="5.4" fill="none" stroke="#000000" stroke-width="1.0"/>
<path d="M317.20 989.50H328.80M323.00 983.70V995.30M318.90 985.40L327.10 993.60M318.90 993.60L327.10 985.40" stroke="#000000" stroke-width="1.0" fill="none"/>
<circle cx="325.00" cy="989.50" r="5.4" fill="none" stroke="#808000" stroke-width="1.0"/>
<path d="M319.20 989.50H330.80M325.00 983.70V995.30M320.90 985.40L329.10 993.60M320.90 993.60L329.10 985.40" stroke="#808000" stroke-width="1.0" fill="none"/>
<circle cx="324.00" cy="989.50" r="5.4" fill="none" stroke="#00ffff" stroke-width="1.0"/>
<path d="M318.20 989.50H329.80M324.00 983.70V995.30M319.90 985.40L328.10 993.60M319.90 993.60L328.10 985.40" stroke="#00ffff" stroke-width="1.0" fill="none"/>
<circle cx="319.00" cy="989.50" r="5.4" fill="none" stroke="#0000ff" stroke-width="1.0"/>
<path d="M313.20 989.50H324.80M319.00 983.70V995.30M314.90 985.40L323.10 993.60M314.90 993.60L323.10 985.40" stroke="#0000ff" stroke-width="1.0" fill="none"/>
<circle cx="321.00" cy="989.50" r="5.4" fill="none" stroke="#d8084e" stroke-width="1.0"/>
<path d="M315.20 989.50H326.80M321.00 983.70V995.30M316.90 985.40L325.10 993.60M316.90 993.60L325.10 985.40" stroke="#d8084e" stroke-width="1.0" fill="none"/>
<circle cx="320.00" cy="989.50" r="5.4" fill="none" stroke="#9933ff" stroke-width="1.0"/>
<path d="M314.20 989.50H325.80M320.00 983.70V995.30M315.90 985.40L324.10 993.60M315.90 993.60L324.10 985.40" stroke="#9933ff" stroke-width="1.0" fill="none"/>
<circle cx="318.00" cy="989.50" r="5.4" fill="none" stroke="#ff00ff" stroke-width="1.0"/>
<path d="M312.20 989.50H323.80M318.00 983.70V995.30M313.90 985.40L322.10 993.60M313.90 993.60L322.10 985.40" stroke="#ff00ff" stroke-width="1.0" fill="none"/>
<circle cx="323.4" cy="989.50" r="10.3" fill="none" stroke="#ff9933" stroke-width="1.0"/>
<path d="M312.90 989.50H333.90M323.40 979.00V1000.00M315.98 982.08L330.82 996.92M315.98 996.92L330.82 982.08" stroke="#ff9933" stroke-width="1.0" fill="none"/>
<circle cx="403.80" cy="1125.50" r="5.4" fill="none" stroke="#008000" stroke-width="1.0"/>
<path d="M396.20 1125.50H407.80M402.00 1119.70V1131.30M397.90 1121.40L406.10 1129.60M397.90 1129.60L406.10 1121.40" stroke="#008000" stroke-width="1.0" fill="none"/>
<circle cx="404.80" cy="1125.50" r="5.4" fill="none" stroke="#000000" stroke-width="1.0"/>
<path d="M397.20 1125.50H408.80M403.00 1119.70V1131.30M398.90 1121.40L407.10 1129.60M398.90 1129.60L407.10 1121.40" stroke="#000000" stroke-width="1.0" fill="none"/>
<circle cx="406.80" cy="1125.50" r="5.4" fill="none" stroke="#808000" stroke-width="1.0"/>
<path d="M399.20 1125.50H410.80M405.00 1119.70V1131.30M400.90 1121.40L409.10 1129.60M400.90 1129.60L409.10 1121.40" stroke="#808000" stroke-width="1.0" fill="none"/>
<circle cx="405.80" cy="1125.50" r="5.4" fill="none" stroke="#00ffff" stroke-width="1.0"/>
<path d="M398.20 1125.50H409.80M404.00 1119.70V1131.30M399.90 1121.40L408.10 1129.60M399.90 1129.60L408.10 1121.40" stroke="#00ffff" stroke-width="1.0" fill="none"/>
<circle cx="400.80" cy="1125.50" r="5.4" fill="none" stroke="#0000ff" stroke-width="1.0"/>
<path d="M393.20 1125.50H404.80M399.00 1119.70V1131.30M394.90 1121.40L403.10 1129.60M394.90 1129.60L403.10 1121.40" stroke="#0000ff" stroke-width="1.0" fill="none"/>
<circle cx="402.80" cy="1125.50" r="5.4" fill="none" stroke="#d8084e" stroke-width="1.0"/>
<path d="M395.20 1125.50H406.80M401.00 1119.70V1131.30M396.90 1121.40L405.10 1129.60M396.90 1129.60L405.10 1121.40" stroke="#d8084e" stroke-width="1.0" fill="none"/>
<circle cx="401.80" cy="1125.50" r="5.4" fill="none" stroke="#9933ff" stroke-width="1.0"/>
<path d="M394.20 1125.50H405.80M400.00 1119.70V1131.30M395.90 1121.40L404.10 1129.60M395.90 1129.60L404.10 1121.40" stroke="#9933ff" stroke-width="1.0" fill="none"/>
<circle cx="399.80" cy="1125.50" r="5.4" fill="none" stroke="#ff00ff" stroke-width="1.0"/>
<path d="M392.20 1125.50H403.80M398.00 1119.70V1131.30M393.90 1121.40L402.10 1129.60M393.90 1129.60L402.10 1121.40" stroke="#ff00ff" stroke-width="1.0" fill="none"/>
<circle cx="405.5" cy="1125.50" r="10.3" fill="none" stroke="#ff9933" stroke-width="1.0"/>
<path d="M393.20 1125.50H414.20M403.70 1115.00V1136.00M396.28 1118.08L411.12 1132.92M396.28 1132.92L411.12 1118.08" stroke="#ff9933" stroke-width="1.0" fill="none"/>
<circle cx="301.84" cy="1245.50" r="5.4" fill="none" stroke="#008000" stroke-width="1.0"/>
<path d="M290.34 1245.50H301.94M296.14 1239.70V1251.30M292.04 1241.40L300.24 1249.60M292.04 1249.60L300.24 1241.40" stroke="#008000" stroke-width="1.0" fill="none"/>
<circle cx="303.13" cy="1245.50" r="5.4" fill="none" stroke="#000000" stroke-width="1.0"/>
<path d="M291.63 1245.50H303.23M297.43 1239.70V1251.30M293.33 1241.40L301.53 1249.60M293.33 1249.60L301.53 1241.40" stroke="#000000" stroke-width="1.0" fill="none"/>
<circle cx="305.70" cy="1245.50" r="5.4" fill="none" stroke="#808000" stroke-width="1.0"/>
<path d="M294.20 1245.50H305.80M300.00 1239.70V1251.30M295.90 1241.40L304.10 1249.60M295.90 1249.60L304.10 1241.40" stroke="#808000" stroke-width="1.0" fill="none"/>
<circle cx="304.41" cy="1245.50" r="5.4" fill="none" stroke="#00ffff" stroke-width="1.0"/>
<path d="M292.91 1245.50H304.51M298.71 1239.70V1251.30M294.61 1241.40L302.82 1249.60M294.61 1249.60L302.82 1241.40" stroke="#00ffff" stroke-width="1.0" fill="none"/>
<circle cx="297.99" cy="1245.50" r="5.4" fill="none" stroke="#0000ff" stroke-width="1.0"/>
<path d="M286.49 1245.50H298.09M292.29 1239.70V1251.30M288.18 1241.40L296.39 1249.60M288.18 1249.60L296.39 1241.40" stroke="#0000ff" stroke-width="1.0" fill="none"/>
<circle cx="300.56" cy="1245.50" r="5.4" fill="none" stroke="#d8084e" stroke-width="1.0"/>
<path d="M289.06 1245.50H300.66M294.86 1239.70V1251.30M290.76 1241.40L298.96 1249.60M290.76 1249.60L298.96 1241.40" stroke="#d8084e" stroke-width="1.0" fill="none"/>
<circle cx="299.27" cy="1245.50" r="5.4" fill="none" stroke="#9933ff" stroke-width="1.0"/>
<path d="M287.77 1245.50H299.37M293.57 1239.70V1251.30M289.47 1241.40L297.67 1249.60M289.47 1249.60L297.67 1241.40" stroke="#9933ff" stroke-width="1.0" fill="none"/>
<circle cx="296.70" cy="1245.50" r="5.4" fill="none" stroke="#ff00ff" stroke-width="1.0"/>
<path d="M285.20 1245.50H296.80M291.00 1239.70V1251.30M286.90 1241.40L295.10 1249.60M286.90 1249.60L295.10 1241.40" stroke="#ff00ff" stroke-width="1.0" fill="none"/>
<circle cx="302.3" cy="1245.50" r="10.3" fill="none" stroke="#ff9933" stroke-width="1.0"/>
<path d="M286.10 1245.50H307.10M296.60 1235.00V1256.00M289.18 1238.08L304.02 1252.92M289.18 1252.92L304.02 1238.08" stroke="#ff9933" stroke-width="1.0" fill="none"/>
<circle cx="281.50" cy="1323.50" r="5.4" fill="none" stroke="#008000" stroke-width="1.0"/>
<path d="M272.20 1323.50H283.80M278.00 1317.70V1329.30M273.90 1319.40L282.10 1327.60M273.90 1327.60L282.10 1319.40" stroke="#008000" stroke-width="1.0" fill="none"/>
<circle cx="282.50" cy="1323.50" r="5.4" fill="none" stroke="#000000" stroke-width="1.0"/>
<path d="M273.20 1323.50H284.80M279.00 1317.70V1329.30M274.90 1319.40L283.10 1327.60M274.90 1327.60L283.10 1319.40" stroke="#000000" stroke-width="1.0" fill="none"/>
<circle cx="284.50" cy="1323.50" r="5.4" fill="none" stroke="#808000" stroke-width="1.0"/>
<path d="M275.20 1323.50H286.80M281.00 1317.70V1329.30M276.90 1319.40L285.10 1327.60M276.90 1327.60L285.10 1319.40" stroke="#808000" stroke-width="1.0" fill="none"/>
<circle cx="283.50" cy="1323.50" r="5.4" fill="none" stroke="#00ffff" stroke-width="1.0"/>
<path d="M274.20 1323.50H285.80M280.00 1317.70V1329.30M275.90 1319.40L284.10 1327.60M275.90 1327.60L284.10 1319.40" stroke="#00ffff" stroke-width="1.0" fill="none"/>
<circle cx="278.50" cy="1323.50" r="5.4" fill="none" stroke="#0000ff" stroke-width="1.0"/>
<path d="M269.20 1323.50H280.80M275.00 1317.70V1329.30M270.90 1319.40L279.10 1327.60M270.90 1327.60L279.10 1319.40" stroke="#0000ff" stroke-width="1.0" fill="none"/>
<circle cx="280.50" cy="1323.50" r="5.4" fill="none" stroke="#d8084e" stroke-width="1.0"/>
<path d="M271.20 1323.50H282.80M277.00 1317.70V1329.30M272.90 1319.40L281.10 1327.60M272.90 1327.60L281.10 1319.40" stroke="#d8084e" stroke-width="1.0" fill="none"/>
<circle cx="279.50" cy="1323.50" r="5.4" fill="none" stroke="#9933ff" stroke-width="1.0"/>
<path d="M270.20 1323.50H281.80M276.00 1317.70V1329.30M271.90 1319.40L280.10 1327.60M271.90 1327.60L280.10 1319.40" stroke="#9933ff" stroke-width="1.0" fill="none"/>
<circle cx="277.50" cy="1323.50" r="5.4" fill="none" stroke="#ff00ff" stroke-width="1.0"/>
<path d="M268.20 1323.50H279.80M274.00 1317.70V1329.30M269.90 1319.40L278.10 1327.60M269.90 1327.60L278.10 1319.40" stroke="#ff00ff" stroke-width="1.0" fill="none"/>
<circle cx="282.9" cy="1323.50" r="10.3" fill="none" stroke="#ff9933" stroke-width="1.0"/>
<path d="M268.90 1323.50H289.90M279.40 1313.00V1334.00M271.98 1316.08L286.82 1330.92M271.98 1330.92L286.82 1316.08" stroke="#ff9933" stroke-width="1.0" fill="none"/>
<circle cx="276.30" cy="1386.50" r="5.4" fill="none" stroke="#008000" stroke-width="1.0"/>
<path d="M260.20 1386.50H271.80M266.00 1380.70V1392.30M261.90 1382.40L270.10 1390.60M261.90 1390.60L270.10 1382.40" stroke="#008000" stroke-width="1.0" fill="none"/>
<circle cx="278.30" cy="1386.50" r="5.4" fill="none" stroke="#000000" stroke-width="1.0"/>
<path d="M262.20 1386.50H273.80M268.00 1380.70V1392.30M263.90 1382.40L272.10 1390.60M263.90 1390.60L272.10 1382.40" stroke="#000000" stroke-width="1.0" fill="none"/>
<circle cx="282.30" cy="1386.50" r="5.4" fill="none" stroke="#808000" stroke-width="1.0"/>
<path d="M266.20 1386.50H277.80M272.00 1380.70V1392.30M267.90 1382.40L276.10 1390.60M267.90 1390.60L276.10 1382.40" stroke="#808000" stroke-width="1.0" fill="none"/>
<circle cx="280.30" cy="1386.50" r="5.4" fill="none" stroke="#00ffff" stroke-width="1.0"/>
<path d="M264.20 1386.50H275.80M270.00 1380.70V1392.30M265.90 1382.40L274.10 1390.60M265.90 1390.60L274.10 1382.40" stroke="#00ffff" stroke-width="1.0" fill="none"/>
<circle cx="270.30" cy="1386.50" r="5.4" fill="none" stroke="#0000ff" stroke-width="1.0"/>
<path d="M254.20 1386.50H265.80M260.00 1380.70V1392.30M255.90 1382.40L264.10 1390.60M255.90 1390.60L264.10 1382.40" stroke="#0000ff" stroke-width="1.0" fill="none"/>
<circle cx="274.30" cy="1386.50" r="5.4" fill="none" stroke="#d8084e" stroke-width="1.0"/>
<path d="M258.20 1386.50H269.80M264.00 1380.70V1392.30M259.90 1382.40L268.10 1390.60M259.90 1390.60L268.10 1382.40" stroke="#d8084e" stroke-width="1.0" fill="none"/>
<circle cx="272.30" cy="1386.50" r="5.4" fill="none" stroke="#9933ff" stroke-width="1.0"/>
<path d="M256.20 1386.50H267.80M262.00 1380.70V1392.30M257.90 1382.40L266.10 1390.60M257.90 1390.60L266.10 1382.40" stroke="#9933ff" stroke-width="1.0" fill="none"/>
<circle cx="268.30" cy="1386.50" r="5.4" fill="none" stroke="#ff00ff" stroke-width="1.0"/>
<path d="M252.20 1386.50H263.80M258.00 1380.70V1392.30M253.90 1382.40L262.10 1390.60M253.90 1390.60L262.10 1382.40" stroke="#ff00ff" stroke-width="1.0" fill="none"/>
<circle cx="278.3" cy="1386.50" r="10.3" fill="none" stroke="#ff9933" stroke-width="1.0"/>
<path d="M257.50 1386.50H278.50M268.00 1376.00V1397.00M260.58 1379.08L275.42 1393.92M260.58 1393.92L275.42 1379.08" stroke="#ff9933" stroke-width="1.0" fill="none"/>
</g>
</g>
<g style="mix-blend-mode:multiply" shape-rendering="crispEdges">
<line x1="218.5" y1="157.5" x2="218.5" y2="1417.5" stroke="#dedede" stroke-width="1"/>
<line x1="311.5" y1="157.5" x2="311.5" y2="1417.5" stroke="#dedede" stroke-width="1"/>
<line x1="405.5" y1="157.5" x2="405.5" y2="1417.5" stroke="#dedede" stroke-width="1"/>
<line x1="498.5" y1="157.5" x2="498.5" y2="1417.5" stroke="#dedede" stroke-width="1"/>
<line x1="591.5" y1="157.5" x2="591.5" y2="1417.5" stroke="#dedede" stroke-width="1"/>
<line x1="684.5" y1="157.5" x2="684.5" y2="1417.5" stroke="#dedede" stroke-width="1"/>
<line x1="778.5" y1="157.5" x2="778.5" y2="1417.5" stroke="#dedede" stroke-width="1"/>
<line x1="871.5" y1="157.5" x2="871.5" y2="1417.5" stroke="#dedede" stroke-width="1"/>
<line x1="964.5" y1="157.5" x2="964.5" y2="1417.5" stroke="#dedede" stroke-width="1"/>
<line x1="180.5" y1="557.5" x2="1019.5" y2="557.5" stroke="#dedede" stroke-width="1"/>
<line x1="180.5" y1="570.5" x2="1019.5" y2="570.5" stroke="#dedede" stroke-width="1"/>
<line x1="180.5" y1="596.5" x2="1019.5" y2="596.5" stroke="#dedede" stroke-width="1"/>
<line x1="180.5" y1="633.5" x2="1019.5" y2="633.5" stroke="#dedede" stroke-width="1"/>
<line x1="180.5" y1="675.5" x2="1019.5" y2="675.5" stroke="#dedede" stroke-width="1"/>
<line x1="180.5" y1="717.5" x2="1019.5" y2="717.5" stroke="#dedede" stroke-width="1"/>
<line x1="180.5" y1="759.5" x2="1019.5" y2="759.5" stroke="#dedede" stroke-width="1"/>
<line x1="180.5" y1="811.5" x2="1019.5" y2="811.5" stroke="#dedede" stroke-width="1"/>
<line x1="180.5" y1="884.5" x2="1019.5" y2="884.5" stroke="#dedede" stroke-width="1"/>
<line x1="180.5" y1="989.5" x2="1019.5" y2="989.5" stroke="#dedede" stroke-width="1"/>
<line x1="180.5" y1="1125.5" x2="1019.5" y2="1125.5" stroke="#dedede" stroke-width="1"/>
<line x1="180.5" y1="1245.5" x2="1019.5" y2="1245.5" stroke="#dedede" stroke-width="1"/>
<line x1="180.5" y1="1323.5" x2="1019.5" y2="1323.5" stroke="#dedede" stroke-width="1"/>
<line x1="180.5" y1="1386.5" x2="1019.5" y2="1386.5" stroke="#dedede" stroke-width="1"/>
<line x1="218.5" y1="157.5" x2="218.5" y2="1417.5" stroke="#bdbde3" stroke-width="1"/>
<line x1="451.5" y1="157.5" x2="451.5" y2="1417.5" stroke="#bdbde3" stroke-width="1"/>
<line x1="684.5" y1="157.5" x2="684.5" y2="1417.5" stroke="#bdbde3" stroke-width="1"/>
<line x1="918.5" y1="157.5" x2="918.5" y2="1417.5" stroke="#bdbde3" stroke-width="1"/>
</g>
<g shape-rendering="crispEdges">
<path d="M180.5 157.5V1417.5H1019.5V157.5" fill="none" stroke="#262626" stroke-width="1"/>
<line x1="180.0" y1="157.5" x2="1020.0" y2="157.5" stroke="#0000ff" stroke-width="1"/>
<path d="M218.5 1417.5V1404.5M218.5 157.5V170.5M311.5 1417.5V1404.5M311.5 157.5V170.5M405.5 1417.5V1404.5M405.5 157.5V170.5M498.5 1417.5V1404.5M498.5 157.5V170.5M591.5 1417.5V1404.5M591.5 157.5V170.5M684.5 1417.5V1404.5M684.5 157.5V170.5M778.5 1417.5V1404.5M778.5 157.5V170.5M871.5 1417.5V1404.5M871.5 157.5V170.5M964.5 1417.5V1404.5M964.5 157.5V170.5M180.5 557.5H193.0M1019.5 557.5H1007.0M180.5 570.5H193.0M1019.5 570.5H1007.0M180.5 596.5H193.0M1019.5 596.5H1007.0M180.5 633.5H193.0M1019.5 633.5H1007.0M180.5 675.5H193.0M1019.5 675.5H1007.0M180.5 717.5H193.0M1019.5 717.5H1007.0M180.5 759.5H193.0M1019.5 759.5H1007.0M180.5 811.5H193.0M1019.5 811.5H1007.0M180.5 884.5H193.0M1019.5 884.5H1007.0M180.5 989.5H193.0M1019.5 989.5H1007.0M180.5 1125.5H193.0M1019.5 1125.5H1007.0M180.5 1245.5H193.0M1019.5 1245.5H1007.0M180.5 1323.5H193.0M1019.5 1323.5H1007.0M180.5 1386.5H193.0M1019.5 1386.5H1007.0" stroke="#262626" stroke-width="1" fill="none"/>
<path d="M218.5 157.5V171.0M451.5 157.5V171.0M684.5 157.5V171.0M918.5 157.5V171.0" stroke="#0000ff" stroke-width="1" fill="none"/>
</g>
<text x="131.80" y="566.80" font-size="26.4" fill="#262626" textLength="38.52" lengthAdjust="spacingAndGlyphs" font-family="Liberation Sans, sans-serif" >8.5</text>
<text x="139.72" y="579.80" font-size="26.4" fill="#262626" textLength="30.64" lengthAdjust="spacingAndGlyphs" font-family="Liberation Sans, sans-serif" >25</text>
<text x="140.14" y="605.80" font-size="26.4" fill="#262626" textLength="30.21" lengthAdjust="spacingAndGlyphs" font-family="Liberation Sans, sans-serif" >55</text>
<text x="123.44" y="642.80" font-size="26.4" fill="#262626" textLength="46.85" lengthAdjust="spacingAndGlyphs" font-family="Liberation Sans, sans-serif" >100</text>
<text x="123.44" y="684.80" font-size="26.4" fill="#262626" textLength="46.85" lengthAdjust="spacingAndGlyphs" font-family="Liberation Sans, sans-serif" >150</text>
<text x="123.18" y="726.80" font-size="26.4" fill="#262626" textLength="47.10" lengthAdjust="spacingAndGlyphs" font-family="Liberation Sans, sans-serif" >200</text>
<text x="123.18" y="768.80" font-size="26.4" fill="#262626" textLength="47.10" lengthAdjust="spacingAndGlyphs" font-family="Liberation Sans, sans-serif" >250</text>
<text x="100.04" y="820.80" font-size="26.4" fill="#262626" textLength="70.28" lengthAdjust="spacingAndGlyphs" font-family="Liberation Sans, sans-serif" >312.5</text>
<text x="123.33" y="893.80" font-size="26.4" fill="#262626" textLength="46.95" lengthAdjust="spacingAndGlyphs" font-family="Liberation Sans, sans-serif" >400</text>
<text x="124.12" y="998.80" font-size="26.4" fill="#262626" textLength="46.22" lengthAdjust="spacingAndGlyphs" font-family="Liberation Sans, sans-serif" >525</text>
<text x="99.56" y="1134.80" font-size="26.4" fill="#262626" textLength="70.78" lengthAdjust="spacingAndGlyphs" font-family="Liberation Sans, sans-serif" >687.5</text>
<text x="83.70" y="1254.80" font-size="26.4" fill="#262626" textLength="86.67" lengthAdjust="spacingAndGlyphs" font-family="Liberation Sans, sans-serif" >831.25</text>
<text x="123.51" y="1332.80" font-size="26.4" fill="#262626" textLength="46.84" lengthAdjust="spacingAndGlyphs" font-family="Liberation Sans, sans-serif" >925</text>
<text x="99.44" y="1395.80" font-size="26.4" fill="#262626" textLength="70.90" lengthAdjust="spacingAndGlyphs" font-family="Liberation Sans, sans-serif" >999.5</text>
<text x="211.57" y="1450.00" font-size="26.4" fill="#262626" textLength="14.82" lengthAdjust="spacingAndGlyphs" font-family="Liberation Sans, sans-serif" >0</text>
<text x="293.16" y="1450.00" font-size="26.4" fill="#262626" textLength="38.47" lengthAdjust="spacingAndGlyphs" font-family="Liberation Sans, sans-serif" >0.2</text>
<text x="385.86" y="1450.00" font-size="26.4" fill="#262626" textLength="38.94" lengthAdjust="spacingAndGlyphs" font-family="Liberation Sans, sans-serif" >0.4</text>
<text x="479.20" y="1450.00" font-size="26.4" fill="#262626" textLength="39.19" lengthAdjust="spacingAndGlyphs" font-family="Liberation Sans, sans-serif" >0.6</text>
<text x="572.51" y="1450.00" font-size="26.4" fill="#262626" textLength="39.05" lengthAdjust="spacingAndGlyphs" font-family="Liberation Sans, sans-serif" >0.8</text>
<text x="677.87" y="1450.00" font-size="26.4" fill="#262626" textLength="14.10" lengthAdjust="spacingAndGlyphs" font-family="Liberation Sans, sans-serif" >1</text>
<text x="759.01" y="1450.00" font-size="26.4" fill="#262626" textLength="38.29" lengthAdjust="spacingAndGlyphs" font-family="Liberation Sans, sans-serif" >1.2</text>
<text x="851.70" y="1450.00" font-size="26.4" fill="#262626" textLength="38.77" lengthAdjust="spacingAndGlyphs" font-family="Liberation Sans, sans-serif" >1.4</text>
<text x="945.03" y="1450.00" font-size="26.4" fill="#262626" textLength="39.02" lengthAdjust="spacingAndGlyphs" font-family="Liberation Sans, sans-serif" >1.6</text>
<text x="214.57" y="143.20" font-size="26.4" fill="#0000ff" textLength="14.82" lengthAdjust="spacingAndGlyphs" font-family="Liberation Sans, sans-serif" >0</text>
<text x="447.89" y="143.20" font-size="26.4" fill="#0000ff" textLength="14.78" lengthAdjust="spacingAndGlyphs" font-family="Liberation Sans, sans-serif" >4</text>
<text x="680.96" y="143.20" font-size="26.4" fill="#0000ff" textLength="14.91" lengthAdjust="spacingAndGlyphs" font-family="Liberation Sans, sans-serif" >8</text>
<text x="902.54" y="143.20" font-size="26.4" fill="#0000ff" textLength="30.31" lengthAdjust="spacingAndGlyphs" font-family="Liberation Sans, sans-serif" >12</text>
<text x="567.33" y="1481.80" font-size="26.4" fill="#262626" textLength="63.96" lengthAdjust="spacingAndGlyphs" font-family="Liberation Sans, sans-serif" >rmse</text>
<g transform="translate(72,0) rotate(-90)"><text x="-811.04" y="0.00" font-size="26.4" fill="#262626" textLength="44.33" lengthAdjust="spacingAndGlyphs" font-family="Liberation Sans, sans-serif" >hPa</text></g>
<text x="548.71" y="48.00" font-size="26.6" fill="#000" textLength="102.49" lengthAdjust="spacingAndGlyphs" font-weight="bold" font-family="Liberation Sans, sans-serif" >Tropics</text>
<text x="390.92" y="77.50" font-size="26.6" fill="#000" textLength="418.19" lengthAdjust="spacingAndGlyphs" font-weight="bold" font-family="Liberation Sans, sans-serif" >AIRS_TEMPERATURE_VPguess</text>
<text x="309.86" y="110.80" font-size="26.4" fill="#0000ff" textLength="267.78" lengthAdjust="spacingAndGlyphs" font-family="Liberation Sans, sans-serif" ># of obs (o=possible,</text>
<path d="M592.3 99.2V110M587.6 101.9L597 107.3M587.6 107.3L597 101.9" stroke="#0000ff" stroke-width="1.5" fill="none"/>
<text x="599.87" y="110.80" font-size="26.4" fill="#0000ff" textLength="290.94" lengthAdjust="spacingAndGlyphs" font-family="Liberation Sans, sans-serif" >=assimilated ) x 10000</text>
<line x1="203" y1="192.50" x2="264" y2="192.50" stroke="#000000" stroke-width="2.4" stroke-dasharray="13 11"/>
<circle cx="234.00" cy="192.50" r="6.1" fill="#000000"/>
<text x="270.85" y="202.30" font-size="26.4" fill="#000" textLength="446.39" lengthAdjust="spacingAndGlyphs" font-family="Liberation Sans, sans-serif" >2011-04 prior grand rmse = 1.1066</text>
<line x1="203" y1="223.25" x2="264" y2="223.25" stroke="#0000ff" stroke-width="2.4" stroke-dasharray="13 11"/>
<rect x="228.30" y="217.75" width="11" height="10.6" fill="#0000ff"/>
<text x="270.86" y="233.05" font-size="26.4" fill="#000" textLength="446.11" lengthAdjust="spacingAndGlyphs" font-family="Liberation Sans, sans-serif" >2012-04 prior grand rmse = 1.1654</text>
<line x1="203" y1="254.00" x2="264" y2="254.00" stroke="#ff00ff" stroke-width="2.4" stroke-dasharray="13 11"/>
<path d="M234.00 246.20L240.80 254.00L234.00 261.80L227.20 254.00Z" fill="#ff00ff"/>
<text x="270.85" y="263.80" font-size="26.4" fill="#000" textLength="446.39" lengthAdjust="spacingAndGlyphs" font-family="Liberation Sans, sans-serif" >2013-04 prior grand rmse = 1.1156</text>
<line x1="203" y1="284.75" x2="264" y2="284.75" stroke="#008000" stroke-width="2.4" stroke-dasharray="13 11"/>
<polygon points="234.00,278.63 231.88,282.27 227.15,282.86 230.58,285.70 229.77,289.70 234.00,287.81 238.23,289.70 237.42,285.70 240.85,282.86 236.12,282.27" fill="#008000"/>
<text x="270.86" y="294.55" font-size="26.4" fill="#000" textLength="446.11" lengthAdjust="spacingAndGlyphs" font-family="Liberation Sans, sans-serif" >2014-04 prior grand rmse = 1.0444</text>
<line x1="203" y1="315.50" x2="264" y2="315.50" stroke="#00ffff" stroke-width="2.4" stroke-dasharray="13 11"/>
<ellipse cx="234.00" cy="315.50" rx="6.4" ry="5.8" fill="#00ffff"/>
<text x="270.86" y="325.30" font-size="26.4" fill="#000" textLength="446.00" lengthAdjust="spacingAndGlyphs" font-family="Liberation Sans, sans-serif" >2015-04 prior grand rmse = 1.0937</text>
<line x1="203" y1="346.25" x2="264" y2="346.25" stroke="#d8084e" stroke-width="2.4" stroke-dasharray="13 11"/>
<rect x="228.00" y="340.65" width="12" height="11.2" rx="2.5" fill="#d8084e"/>
<text x="270.86" y="356.05" font-size="26.4" fill="#000" textLength="445.71" lengthAdjust="spacingAndGlyphs" font-family="Liberation Sans, sans-serif" >2016-04 prior grand rmse = 1.1255</text>
<line x1="203" y1="377.00" x2="264" y2="377.00" stroke="#808000" stroke-width="2.4" stroke-dasharray="13 11"/>
<polygon points="240.80,377.00 237.20,375.43 237.40,371.99 234.00,373.86 230.60,371.99 230.80,375.43 227.20,377.00 230.80,378.57 230.60,382.01 234.00,380.14 237.40,382.01 237.20,378.57" fill="#808000"/>
<text x="270.86" y="386.80" font-size="26.4" fill="#000" textLength="446.00" lengthAdjust="spacingAndGlyphs" font-family="Liberation Sans, sans-serif" >2017-04 prior grand rmse = 1.0417</text>
<line x1="203" y1="407.75" x2="264" y2="407.75" stroke="#9933ff" stroke-width="2.4" stroke-dasharray="13 11"/>
<circle cx="234.00" cy="407.75" r="6.1" fill="#9933ff"/>
<text x="270.85" y="417.55" font-size="26.4" fill="#000" textLength="446.26" lengthAdjust="spacingAndGlyphs" font-family="Liberation Sans, sans-serif" >2018-04 prior grand rmse = 1.1148</text>
<line x1="203" y1="438.50" x2="264" y2="438.50" stroke="#ff9933" stroke-width="4.6"/>
<rect x="228.30" y="432.50" width="11.4" height="12" fill="#ff9933"/>
<text x="270.86" y="448.30" font-size="26.4" fill="#000" textLength="445.71" lengthAdjust="spacingAndGlyphs" font-family="Liberation Sans, sans-serif" >2019-04 prior grand rmse = 1.0605</text>
</svg></body></html>
